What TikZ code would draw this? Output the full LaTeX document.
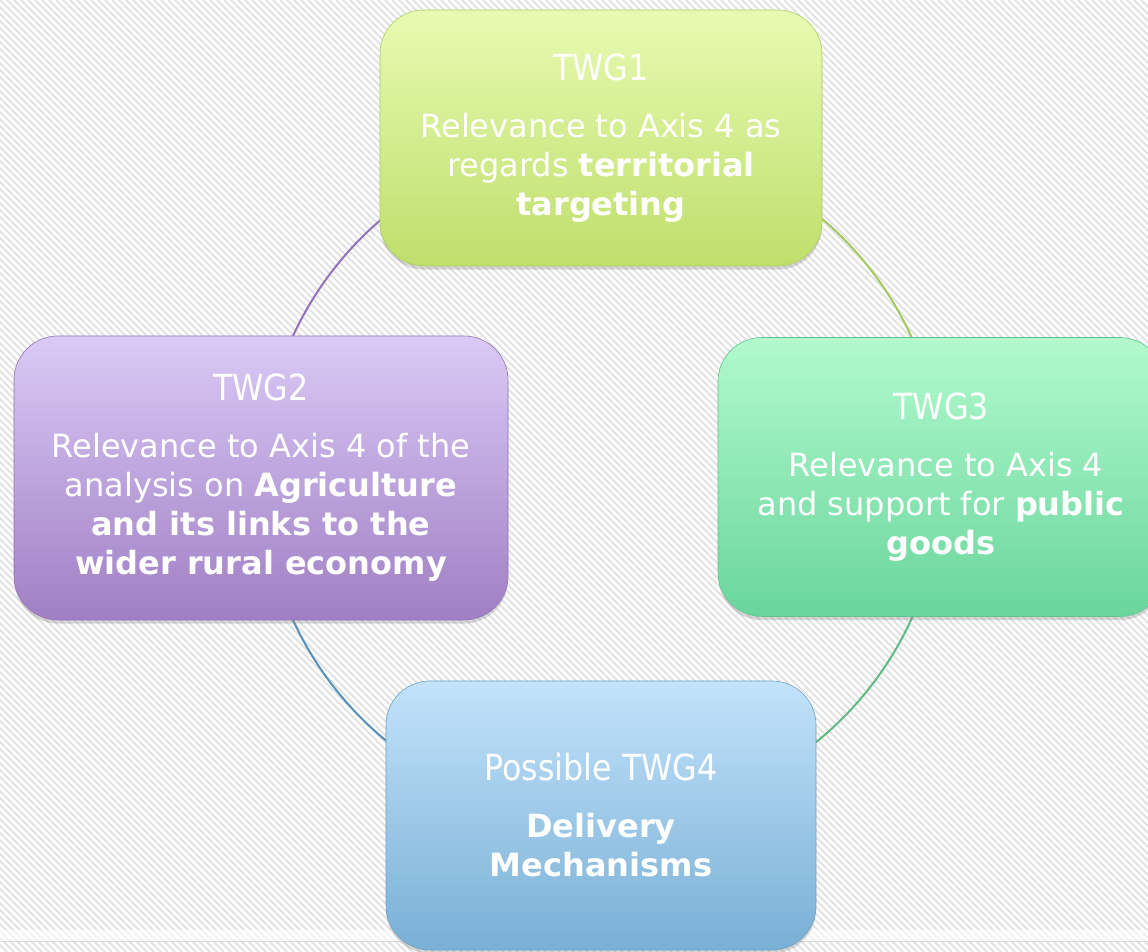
\documentclass[tikz,border=0pt]{standalone}
\usepackage{fontspec}
\setmainfont{DejaVu Sans}
\newfontfamily\titlefont{DejaVu Sans}[FakeStretch=0.88]
\usetikzlibrary{shadows}

\definecolor{limeTop}{RGB}{232,250,178}
\definecolor{limeBot}{RGB}{190,223,108}
\definecolor{lilacTop}{RGB}{218,202,246}
\definecolor{lilacBot}{RGB}{160,127,196}
\definecolor{mintTop}{RGB}{178,250,206}
\definecolor{mintBot}{RGB}{106,213,157}
\definecolor{skyTop}{RGB}{194,227,251}
\definecolor{skyBot}{RGB}{121,175,213}

\definecolor{ringTR}{RGB}{165,200,95}
\definecolor{ringBR}{RGB}{95,185,130}
\definecolor{ringBL}{RGB}{85,145,185}
\definecolor{ringTL}{RGB}{145,115,185}

\newcommand\twgtitle[1]{{\titlefont\fontsize{18}{19.5}\selectfont #1}\\[9pt]}

\begin{document}
\begin{tikzpicture}[
    x = 0.5pt,
    y = -0.5pt,
    hatch/.style = {
      black!11,
      line width = 1pt
    },
    ring/.style = {
      line width = 1pt
    },
    group/.style 2 args = {
      rectangle,
      rounded corners = 22pt,
      top color = #1,
      bottom color = #2,
      draw = #2!92!black,
      line width = 0.3pt,
      drop shadow = {shadow xshift = 0pt, shadow yshift = -1.8pt, opacity = 0.3},
      text = white,
      align = center,
      inner sep = 0pt,
      font = \fontsize{16}{19.5}\selectfont
    }
  ]
  \clip (0,0) rectangle (1148,952);
  \fill[white] (0,0) rectangle (1148,952);

  % background stripes
  \foreach \i in {-952,-945,...,1148}
    \draw[hatch] (\i,0) -- ++(952,952);
  \fill[white, opacity=0.6] (0,930) rectangle (1148,941);
  \draw[black!15] (0,941.5) -- (1148,941.5);

  % the cycle
  \coordinate (c) at (602,478);
  \draw[ring, ringTR] (c) ++(90:170pt)  arc[start angle=90,  end angle=0,    radius=170pt];
  \draw[ring, ringBR] (c) ++(0:170pt)   arc[start angle=0,   end angle=-90,  radius=170pt];
  \draw[ring, ringBL] (c) ++(-90:170pt) arc[start angle=-90, end angle=-180, radius=170pt];
  \draw[ring, ringTL] (c) ++(180:170pt) arc[start angle=180, end angle=90,   radius=170pt];

  \node[group={limeTop}{limeBot}, minimum width=221pt, minimum height=128pt] (twg1) at (601,138)
    {\twgtitle{TWG1}Relevance to Axis 4 as\\ regards \textbf{territorial}\\ \textbf{targeting}};
  \node[group={lilacTop}{lilacBot}, minimum width=247pt, minimum height=142pt] (twg2) at (261,478)
    {\twgtitle{TWG2}Relevance to Axis 4 of the\\ analysis on \textbf{Agriculture}\\ \textbf{and its links to the}\\ \textbf{wider rural economy}};
  \node[group={mintTop}{mintBot}, minimum width=223pt, minimum height=139.5pt] (twg3) at (941,477)
    {\twgtitle{TWG3}\hspace*{5pt}Relevance to Axis 4\\ and support for \textbf{public}\\ \textbf{goods}};
  \node[group={skyTop}{skyBot}, minimum width=215pt, minimum height=134.5pt] (twg4) at (601,815.5)
    {\twgtitle{Possible TWG4}\textbf{Delivery}\\ \textbf{Mechanisms}};

\end{tikzpicture}
\end{document}
